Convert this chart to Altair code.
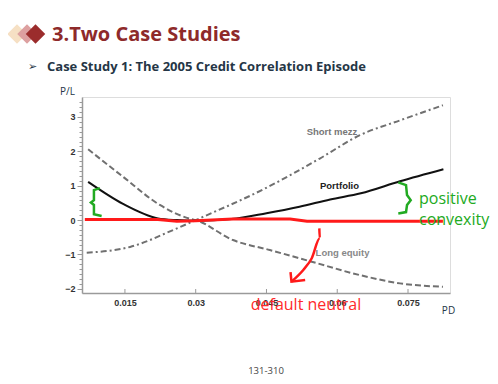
import altair as alt
import pandas as pd

# ---- data ----
x_ticks = [0.015, 0.03, 0.045, 0.06, 0.075]

pf_pd = [0.0072, 0.0146, 0.022, 0.026, 0.03, 0.0376, 0.045, 0.052, 0.0585, 0.065, 0.0733, 0.0825]
pf_pl = [1.11, 0.47, 0.05, 0.0, -0.02, 0.03, 0.2, 0.39, 0.6, 0.78, 1.13, 1.48]

sm_pd = [0.0069, 0.0161, 0.0252, 0.03, 0.0447, 0.0563, 0.0648, 0.0733, 0.0824]
sm_pl = [-0.95, -0.78, -0.29, 0.0, 0.92, 1.79, 2.47, 2.9, 3.34]

le_pd = [0.0072, 0.0146, 0.0224, 0.0288, 0.03, 0.0379, 0.0457, 0.0546, 0.0648, 0.0733, 0.0824]
le_pl = [2.06, 1.26, 0.44, 0.04, 0.0, -0.58, -0.87, -1.21, -1.6, -1.84, -1.94]

red_pd = [0.0065, 0.022, 0.026, 0.03, 0.0379, 0.05, 0.0536, 0.0824]
red_pl = [0.02, 0.02, -0.03, -0.02, 0.03, 0.03, -0.03, -0.03]

arrow_pd = [0.0562, 0.0563, 0.0546, 0.0528, 0.0503]
arrow_pl = [-0.24, -0.53, -1.11, -1.45, -1.79]
head_pd = [0.0501, 0.0503, 0.0532]
head_pl = [-1.51, -1.79, -1.74]

lb_pd = [0.0097, 0.00843, 0.00843, 0.00779, 0.00843, 0.00843, 0.01006]
lb_pl = [0.93, 0.87, 0.58, 0.51, 0.44, 0.17, 0.12]
rb_pd = [0.07294, 0.07458, 0.07479, 0.07557, 0.07479, 0.07458, 0.07294]
rb_pl = [1.096, 1.017, 0.727, 0.581, 0.436, 0.233, 0.195]

y_minor = [round(-2 + k / 7, 4) for k in range(0, 39)]

W, H = 368, 196
xs = alt.Scale(domain=[0.0059, 0.0839], nice=False, zero=False)
ys = alt.Scale(domain=[-2.12, 3.58], nice=False, zero=False)

is_int = "abs(datum.value - round(datum.value)) < 0.001"

x_axis = alt.Axis(values=x_ticks, format=".3~f", title=None, ticks=False, grid=False,
                  labelFont="Liberation Sans", labelFontWeight="bold", labelFontSize=9,
                  labelColor="#333", domainColor="#9a9a9a", domainWidth=1.5, labelPadding=5)
y_axis = alt.Axis(values=y_minor, title=None, grid=False,
                  labelExpr=f"{is_int} ? format(datum.value, 'd') : ''",
                  tickSize={"condition": {"test": is_int, "value": 5}, "value": 3},
                  tickColor="#9a9a9a", domainColor="#9a9a9a", domainWidth=1.5,
                  labelFont="Liberation Sans", labelFontWeight="bold", labelFontSize=9,
                  labelColor="#333", labelPadding=2)


def df(xv, yv):
    return pd.DataFrame({"pd": xv, "pl": yv, "o": list(range(len(xv)))})


def line(xv, yv, **kw):
    return alt.Chart(df(xv, yv)).mark_line(**kw).encode(
        x=alt.X("pd:Q", scale=xs, axis=x_axis),
        y=alt.Y("pl:Q", scale=ys, axis=y_axis),
        order="o:Q")


base_axes = alt.Chart(pd.DataFrame({"pd": x_ticks})).mark_rule(color="#9a9a9a", strokeWidth=1).encode(
    x=alt.X("pd:Q", scale=xs, axis=x_axis), y=alt.value(H), y2=alt.value(H - 4))

le = line(le_pd, le_pl, color="#707070", strokeWidth=2, strokeDash=[6, 3], interpolate="monotone")
sm = line(sm_pd, sm_pl, color="#707070", strokeWidth=2, strokeDash=[6, 3, 2, 3], interpolate="monotone")
pf = line(pf_pd, pf_pl, color="#111111", strokeWidth=2, interpolate="monotone")
red = line(red_pd, red_pl, color="#FF1A1A", strokeWidth=3)
arrow = line(arrow_pd, arrow_pl, color="#FF1A1A", strokeWidth=2.5, interpolate="monotone")
head = line(head_pd, head_pl, color="#FF1A1A", strokeWidth=2.5)
lb = line(lb_pd, lb_pl, color="#22AA22", strokeWidth=2.5)
rb = line(rb_pd, rb_pl, color="#22AA22", strokeWidth=2.5)


def txt(t, x, y, **kw):
    return alt.Chart(pd.DataFrame({"t": [t]})).mark_text(**kw).encode(
        x=alt.value(x), y=alt.value(y), text="t:N")


lab_kw = dict(font="Liberation Sans", fontWeight="bold", fontSize=9.5)
texts = [
    txt("Short mezz", 250, 35, color="#777777", **lab_kw),
    txt("Portfolio", 257.5, 89, color="#222222", **lab_kw),
    txt("Long equity", 260.5, 156, color="#888888", **lab_kw),
    txt("positive", 337, 102, align="left", color="#22AA22", font="Open Sans", fontSize=16),
    txt("convexity", 337, 123, align="left", color="#22AA22", font="Open Sans", fontSize=16),
    txt("default neutral", 224, 208, color="#FF2A2A", font="Open Sans", fontSize=16),
    txt("P/L", -14.5, -5, color="#253646", font="Open Sans", fontSize=10),
    txt("PD", 366.5, 214, color="#253646", font="Open Sans", fontSize=10),
    txt("3.Two Case Studies", -30, -62, align="left", color="#8E2A2A", font="Open Sans",
        fontWeight="bold", fontSize=20),
    txt("➢", -54, -30, align="left", color="#253646", font="DejaVu Sans", fontSize=11),
    txt("Case Study 1: The 2005 Credit Correlation Episode", -35, -30, align="left",
        color="#253646", font="Open Sans", fontWeight="bold", fontSize=13),
    txt("131-310", 184, 274, color="#444444", font="Open Sans", fontSize=9.5),
]

dia_x = [-65, -55, -46.5]
dia_c = ["#F6E0C4", "#DDA0A0", "#9B2C2C"]
diamonds = [alt.Chart(pd.DataFrame({"a": [1]})).mark_point(
    shape="diamond", filled=True, size=380, opacity=1, color=c).encode(
    x=alt.value(xv), y=alt.value(-63)) for xv, c in zip(dia_x, dia_c)]

chart = alt.layer(base_axes, le, sm, pf, red, arrow, head, lb, rb, *texts, *diamonds).properties(
    width=W, height=H,
    autosize=alt.AutoSizeParams(type="none"),
    padding={"left": 74, "top": 89, "right": 40, "bottom": 84},
).configure_view(stroke=None).configure(background="white")

chart.save("out.html", embed_options={"renderer": "svg", "actions": False})
